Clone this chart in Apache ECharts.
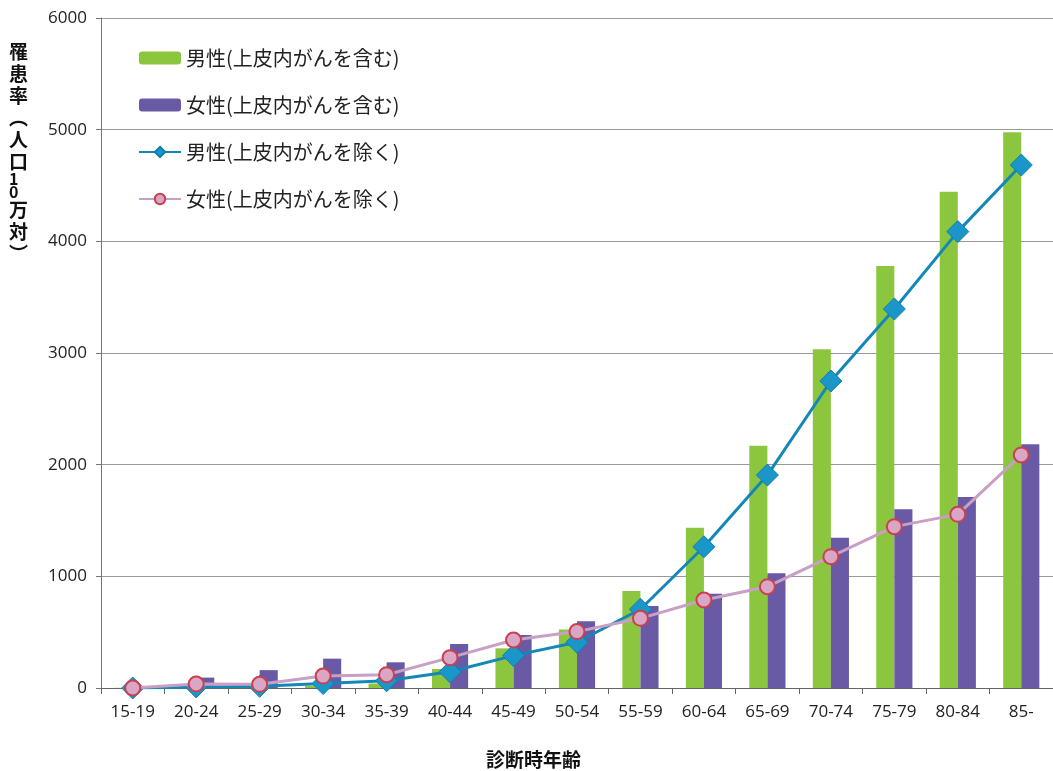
<!DOCTYPE html>
<html>
<head>
<meta charset="utf-8">
<script src="https://cdn.jsdelivr.net/npm/echarts@6/dist/echarts.min.js"></script>
<style>
  html, body { margin: 0; padding: 0; background: #fff; }
  #main { width: 1053px; height: 771px; }
</style>
</head>
<body>
<div id="main"></div>
<script>
// 年齢階級
const ageGroups = ['15-19', '20-24', '25-29', '30-34', '35-39', '40-44', '45-49', '50-54',
  '55-59', '60-64', '65-69', '70-74', '75-79', '80-84', '85-'];
// 罹患率 (人口10万対)
const maleIncl = [2, 5, 10, 20, 40, 170, 355, 525, 869, 1436, 2170, 3033, 3779, 4445, 4976];
const femaleIncl = [3, 93, 160, 263, 230, 394, 475, 597, 734, 845, 1027, 1346, 1600, 1710, 2182];
const maleExcl = [0, 10, 15, 40, 65, 145, 290, 410, 705, 1265, 1907, 2749, 3394, 4087, 4683];
const femaleExcl = [0, 36, 33, 107, 119, 272, 430, 505, 624, 788, 907, 1176, 1445, 1555, 2087];
const seriesNames = ['男性(上皮内がんを含む)', '女性(上皮内がんを含む)', '男性(上皮内がんを除く)', '女性(上皮内がんを除く)'];

const font = '"Noto Sans CJK JP", "Noto Sans", sans-serif';
const numFont = '"Open Sans", "Noto Sans", sans-serif';
let myChart = echarts.init(document.getElementById('main'));

myChart.setOption({
    backgroundColor: '#fff',
    animation: false,
    textStyle: { fontFamily: font },
    grid: { left: 101, right: 0, top: 18, bottom: 83 },
    legend: {
        orient: 'vertical',
        left: 133,
        top: 43,
        itemGap: 27,
        itemWidth: 42,
        itemHeight: 13,
        data: seriesNames,
        textStyle: { fontSize: 20, color: '#222', fontFamily: font }
    },
    xAxis: {
        type: 'category',
        data: ageGroups,
        axisLine: { lineStyle: { color: '#666', width: 1 } },
        axisTick: { show: true, lineStyle: { color: '#666' }, length: 6 },
        axisLabel: { fontSize: 17, color: '#222', margin: 16, fontFamily: numFont }
    },
    yAxis: {
        type: 'value',
        min: 0,
        max: 6000,
        interval: 1000,
        axisLine: { show: true, lineStyle: { color: '#777' } },
        axisTick: { show: true, lineStyle: { color: '#777' }, length: 5 },
        axisLabel: { fontSize: 17, color: '#222', margin: 14, fontFamily: numFont,
            formatter: function (v) { return String(v); } },
        splitLine: { lineStyle: { color: '#999', width: 1 } }
    },
    graphic: [
        {
            type: 'text',
            left: 9,
            top: 42,
            style: {
                text: '{c|罹}\n{c|患}\n{c|率}\n{c|︵}\n{c|人}\n{c|口}\n{d|1}\n{d|0}\n{c|万}\n{c|対}\n{c|︶}',
                fill: '#111',
                align: 'center',
                rich: {
                    c: { font: 'bold 19px ' + font, lineHeight: 22, fill: '#111' },
                    d: { font: 'bold 16px ' + font, lineHeight: 13, fill: '#111' }
                }
            }
        },
        {
            type: 'text',
            left: 486,
            top: 750,
            style: {
                text: '診断時年齢',
                font: 'bold 19px ' + font,
                fill: '#111'
            }
        }
    ],
    series: [
        {
            name: seriesNames[0],
            type: 'bar',
            data: maleIncl,
            barGap: '0%',
            barCategoryGap: '43%',
            itemStyle: { color: '#8cc63e' }
        },
        {
            name: seriesNames[1],
            type: 'bar',
            data: femaleIncl,
            itemStyle: { color: '#6a5aa6' }
        },
        {
            name: seriesNames[2],
            type: 'line',
            data: maleExcl,
            symbol: 'diamond',
            symbolSize: 22,
            lineStyle: { color: '#1388b8', width: 3 },
            itemStyle: { color: '#1b96c8', borderColor: '#0f7fae', borderWidth: 1 },
            z: 3
        },
        {
            name: seriesNames[3],
            type: 'line',
            data: femaleExcl,
            symbol: 'circle',
            symbolSize: 15,
            lineStyle: { color: '#c9a0c4', width: 3 },
            itemStyle: { color: '#d9a6c6', borderColor: '#c9404e', borderWidth: 2 },
            z: 4
        }
    ]
});
window.onresize = function () {
    myChart.resize();
};
</script>
</body>
</html>
